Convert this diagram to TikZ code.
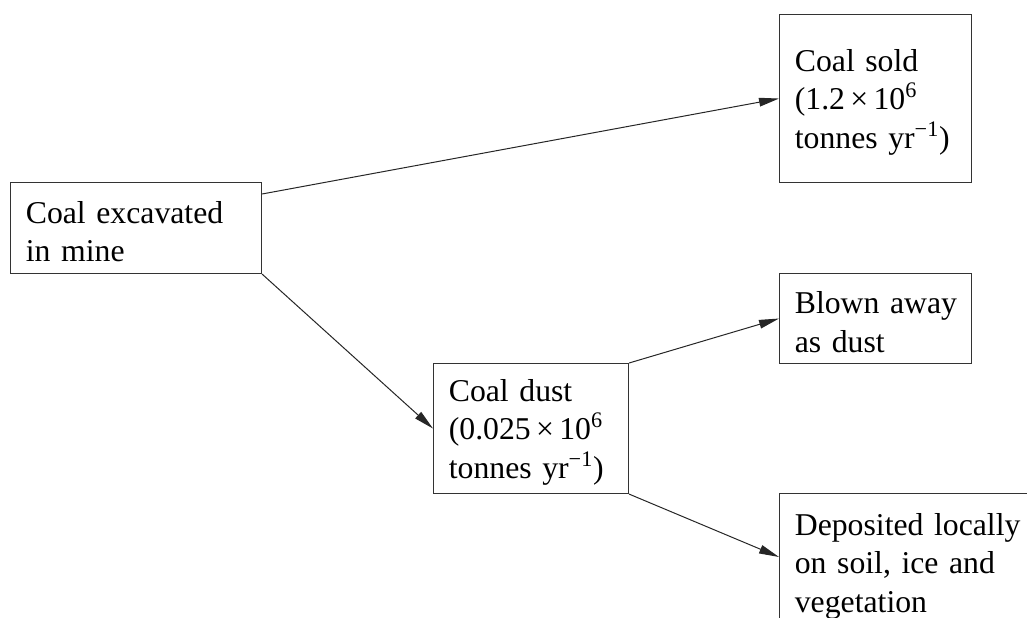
\documentclass[tikz,border=0pt]{standalone}
\usepackage{fontspec}
\setmainfont{Liberation Serif}
\usetikzlibrary{arrows.meta,calc}
\newcommand{\toppad}{\rule{0pt}{22pt}}
\begin{document}
\begin{tikzpicture}[x=0.75pt,y=-0.75pt,
  box/.style={draw=black!80,line width=0.8pt,anchor=north west,align=left,
    inner xsep=11.5pt,inner ysep=0pt,font=\fontsize{23.8}{28.9}\selectfont},
  flow/.style={draw=black!85,line width=0.75pt,-{Triangle[length=15pt,width=6.5pt]}}]
\useasboundingbox (0,0) rectangle (1027,617);
\clip (0,0) rectangle (1027,617);
\node[box,minimum width=188.25pt,minimum height=68.25pt,text width=165.25pt]
  (excav) at (10,182) {\toppad Coal~excavated\\in~mine};
\node[box,minimum width=144pt,minimum height=126pt,text width=121pt]
  (sold) at (779,14) {\toppad Coal~sold\\(1.2\,×\,10\textsuperscript{6}\\tonnes~yr\textsuperscript{−1})};
\node[box,minimum width=146.25pt,minimum height=97.5pt,text width=123.25pt]
  (dust) at (433,363) {\toppad Coal~dust\\(0.025\,×\,10\textsuperscript{6}\\tonnes~yr\textsuperscript{−1})};
\node[box,minimum width=144pt,minimum height=67.5pt,text width=121pt]
  (blown) at (779,273) {\toppad Blown~away\\as~dust};
\node[box,inner ysep=14.6pt,minimum width=195pt,text width=172pt]
  (dep) at (779,493) {Deposited~locally\\on~soil,~ice~and\\vegetation};
\draw[flow] ($(excav.north east)+(0,12)$) -- (sold.west);
\draw[flow] (excav.south east) -- (dust.west);
\draw[flow] (dust.north east) -- (blown.west);
\draw[flow] (dust.south east) -- ($(dep.north west)+(0,64)$);
\end{tikzpicture}
\end{document}
